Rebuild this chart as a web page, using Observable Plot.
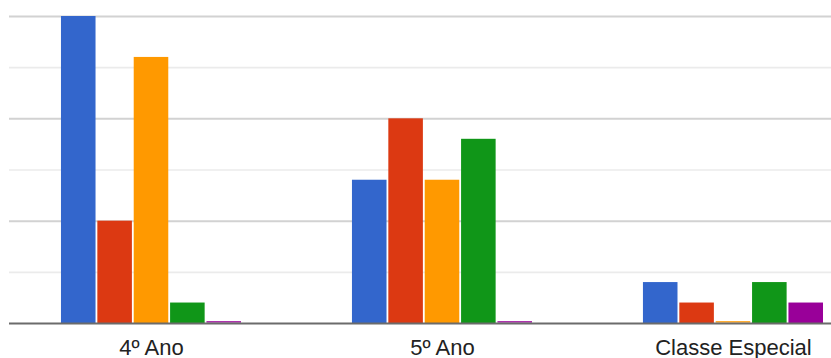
<!DOCTYPE html>
<html>
<head>
<meta charset="utf-8">
<script src="https://cdn.jsdelivr.net/npm/d3@7"></script>
<script src="https://cdn.jsdelivr.net/npm/@observablehq/plot@0.6"></script>
<style>
  html, body { margin: 0; padding: 0; background: #fff; }
  #chart svg { display: block; }
</style>
</head>
<body>
<div id="chart"></div>
<script>
// Categories (x groups)
const categories = ["4º Ano", "5º Ano", "Classe Especial"];
// Series names and colours
const seriesNames = ["Série 1", "Série 2", "Série 3", "Série 4", "Série 5"];
const seriesColors = ["#3366cc", "#dc3912", "#ff9900", "#109618", "#990099"];
// Values per series (one value per category)
const serie1 = [30, 14, 4];
const serie2 = [10, 20, 2];
const serie3 = [26, 14, 0];
const serie4 = [2, 18, 4];
const serie5 = [0, 0, 2];
// Gridline values
const majorTicks = [10, 20, 30];
const minorTicks = [5, 15, 25];

const seriesValues = [serie1, serie2, serie3, serie4, serie5];
const data = [];
categories.forEach((cat, ci) => {
  seriesNames.forEach((s, si) => {
    data.push({category: cat, series: s, key: cat + "|" + s, value: seriesValues[si][ci]});
  });
});

// Band domain: series keys per category, with spacer keys between groups
const gapCount = 3;
const xDomain = [];
categories.forEach((cat, ci) => {
  seriesNames.forEach(s => xDomain.push(cat + "|" + s));
  if (ci < categories.length - 1) {
    for (let g = 0; g < gapCount; g++) xDomain.push("gap" + ci + "-" + g);
  }
});
const labelKeys = categories.map(cat => cat + "|" + seriesNames[2]);

const chart = Plot.plot({
  width: 831,
  height: 358,
  marginTop: 16,
  marginBottom: 35,
  marginLeft: 9,
  marginRight: 0,
  style: {fontFamily: "'Liberation Sans', Arial, sans-serif", background: "#fff"},
  x: {type: "band", domain: xDomain, range: [60.06, 823.9], paddingInner: 0.05, paddingOuter: 0.025, round: false, axis: null},
  y: {domain: [0, 30], axis: null},
  color: {domain: seriesNames, range: seriesColors},
  marks: [
    Plot.ruleY(minorTicks, {stroke: "#ebebeb", strokeWidth: 1.6}),
    Plot.ruleY(majorTicks, {stroke: "#d2d2d2", strokeWidth: 2}),
    Plot.barY(data, {x: "key", y: "value", fill: "series"}),
    Plot.tickY(data.filter(d => d.value === 0), {x: "key", y: "value", stroke: "series", strokeWidth: 1.6, strokeOpacity: 0.8, dy: -1.6}),
    Plot.ruleY([0], {stroke: "#6b6b6b", strokeWidth: 2}),
    Plot.axisX({
      ticks: labelKeys,
      tickFormat: k => k.split("|")[0],
      tickSize: 0,
      tickPadding: 16,
      fontSize: 22,
      fill: "#222",
      label: null
    })
  ]
});
document.getElementById("chart").appendChild(chart);
</script>
</body>
</html>
